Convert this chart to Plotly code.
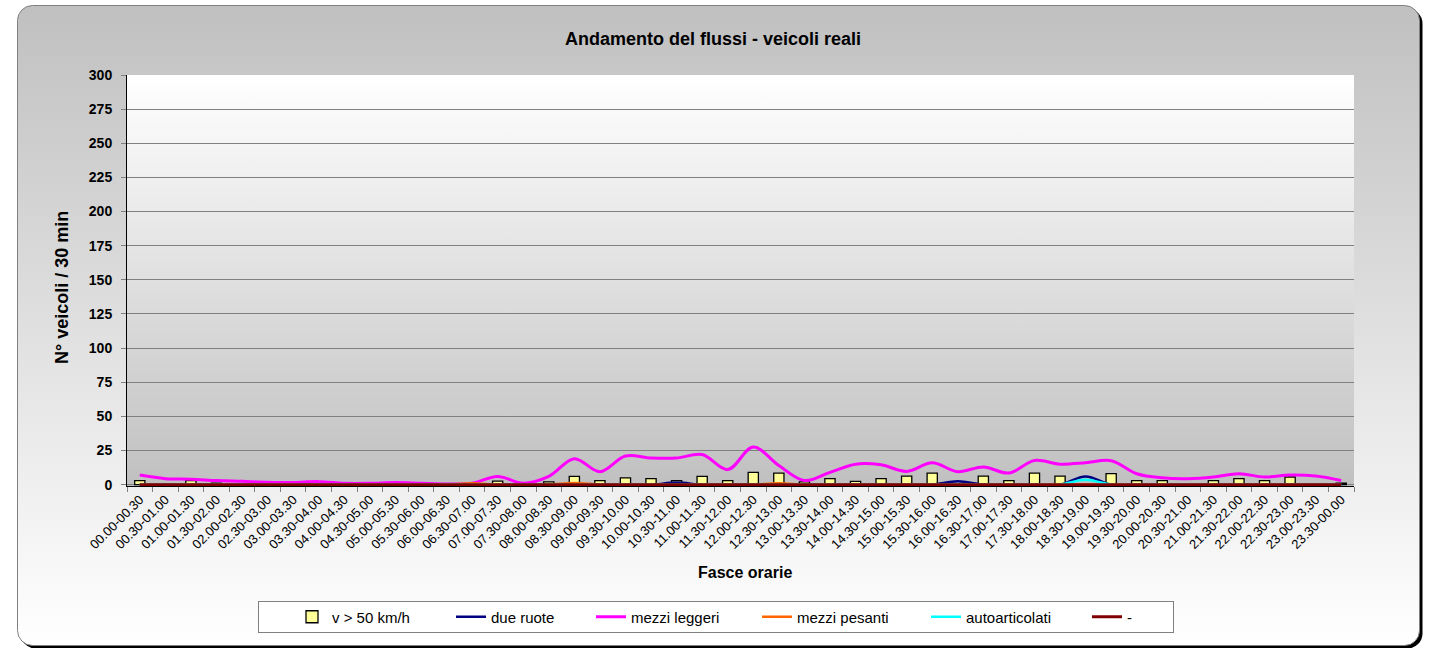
import base64
import plotly.graph_objects as go

# fasce orarie da 30 minuti
fasce = [
    "00.00-00.30", "00.30-01.00", "01.00-01.30", "01.30-02.00", "02.00-02.30", "02.30-03.00",
    "03.00-03.30", "03.30-04.00", "04.00-04.30", "04.30-05.00", "05.00-05.30", "05.30-06.00",
    "06.00-06.30", "06.30-07.00", "07.00-07.30", "07.30-08.00", "08.00-08.30", "08.30-09.00",
    "09.00-09.30", "09.30-10.00", "10.00-10.30", "10.30-11.00", "11.00-11.30", "11.30-12.00",
    "12.00-12.30", "12.30-13.00", "13.00-13.30", "13.30-14.00", "14.00-14.30", "14.30-15.00",
    "15.00-15.30", "15.30-16.00", "16.00-16.30", "16.30-17.00", "17.00-17.30", "17.30-18.00",
    "18.00-18.30", "18.30-19.00", "19.00-19.30", "19.30-20.00", "20.00-20.30", "20.30-21.00",
    "21.00-21.30", "21.30-22.00", "22.00-22.30", "22.30-23.00", "23.00-23.30", "23.30-00.00",
]

v_oltre_50 = [3, 0.5, 3, 1, 0, 0, 0, 0, 0, 0, 0, 0,
              0, 0, 2.5, 0, 2, 6, 3, 5, 4.4, 3, 6, 3,
              9, 8.5, 2, 4.4, 2.4, 4.4, 6.3, 8.5, 0, 6.3, 3, 8.5,
              6.3, 0, 8, 3, 3, 0, 3, 4.4, 3, 5.6, 0, 1]
due_ruote = [0, 0, 0, 0, 0, 0, 0, 0, 0, 0, 0, 0,
             0, 0, 0, 0, 0, 0, 0, 0, 0, 1.5, 0, 0,
             0, 0, 0, 0, 0, 0, 0, 0, 2.5, 0, 0, 0,
             0, 6, 0, 0, 0, 0, 0, 0, 0, 0, 0, 0]
mezzi_leggeri = [7, 4.4, 4, 3, 2.4, 1.7, 1.5, 2.2, 1, 1, 1.5, 1,
                 0.5, 1, 6, 1, 6, 19, 9.5, 21, 19.5, 19.5, 22, 11,
                 27.5, 14, 3, 9, 15, 14.5, 9.7, 16, 9.5, 13, 8.5, 17.7,
                 15, 16, 17.5, 8, 5, 4.4, 5.6, 8, 5.6, 7, 6.3, 3]
mezzi_pesanti = [0, 0, 0, 0, 0, 0, 0, 0, 0, 0, 0, 0,
                 0, 1, 0, 0, 0, 1.2, 0, 0, 0, 0, 0, 0,
                 0, 1, 0, 0, 0, 0, 0, 0, 0, 0, 0, 0,
                 0, 0, 0, 0, 0, 0, 0, 0, 0, 0, 0, 0]
autoarticolati = [0, 0, 0, 0, 0, 0, 0, 0, 0, 0, 0, 0,
                  0, 0, 0, 0, 0, 0, 0, 0, 0, 0, 0, 0,
                  0, 0, 0, 0, 0, 0, 0, 0, 0, 0, 0, 0,
                  0, 3.5, 0, 0, 0, 0, 0, 0, 0, 0, 0, 0]
trattino = [0] * 48

W, H = 1430, 648
L, R, T, B = 127, 76, 75, 162
PW, PH = W - L - R, H - T - B
FONT = "Liberation Sans, Arial, sans-serif"


def svg_uri(svg):
    return "data:image/svg+xml;base64," + base64.b64encode(svg.encode()).decode()


def px_x(px):
    return (px - L) / PW


def px_y(py):
    return (T + PH - py) / PH


# sfondo esterno (riquadro arrotondato con ombra) e riquadro legenda
outer_svg = f"""<svg xmlns='http://www.w3.org/2000/svg' width='{W}' height='{H}' viewBox='0 0 {W} {H}' preserveAspectRatio='none'>
<defs><linearGradient id='g' x1='0' y1='0' x2='0' y2='1'>
<stop offset='0' stop-color='#c0c0c0'/><stop offset='1' stop-color='#ffffff'/></linearGradient></defs>
<rect x='20.5' y='8.5' width='1402' height='640' rx='15' fill='#000000'/>
<rect x='17.5' y='5.5' width='1402' height='640' rx='15' fill='url(#g)' stroke='#808080'/>
<rect x='258.5' y='601.5' width='915' height='31' fill='#ffffff' stroke='#808080'/>
</svg>"""

plot_svg = """<svg xmlns='http://www.w3.org/2000/svg' width='100' height='100' viewBox='0 0 100 100' preserveAspectRatio='none'>
<defs><linearGradient id='p' x1='0' y1='0' x2='0' y2='1'>
<stop offset='0' stop-color='#ffffff'/><stop offset='1' stop-color='#c0c0c0'/></linearGradient></defs>
<rect x='0' y='0' width='100' height='100' fill='url(#p)'/>
</svg>"""

fig = go.Figure()

# ogni voce ha la sua legenda, per poterla collocare come nell'originale
inizio_testo = [332, 491, 631, 797, 966, 1127]
legend_ids = ["legend"] + [f"legend{i}" for i in range(2, 7)]

fig.add_trace(go.Bar(x=fasce, y=v_oltre_50, name="v > 50 km/h", legend=legend_ids[0],
                     marker=dict(color="#ffff99", line=dict(color="#000000", width=1.3))))

linee = [
    ("due ruote", due_ruote, "#000080", 2.5),
    ("mezzi leggeri", mezzi_leggeri, "#ff00ff", 3),
    ("mezzi pesanti", mezzi_pesanti, "#ff6600", 2.5),
    ("autoarticolati", autoarticolati, "#00ffff", 2.5),
    ("-", trattino, "#800000", 3),
]
for k, (nome, valori, colore, spessore) in enumerate(linee, start=1):
    fig.add_trace(go.Scatter(x=fasce, y=valori, name=nome, mode="lines", legend=legend_ids[k],
                             line=dict(color=colore, width=spessore, shape="spline", smoothing=1)))

legends = {}
for lid, xt in zip(legend_ids, inizio_testo):
    legends[lid] = dict(orientation="h", x=px_x(xt - 40), xanchor="left", y=px_y(617), yanchor="middle",
                        bgcolor="rgba(0,0,0,0)", borderwidth=0, font=dict(size=15), itemwidth=30)

fig.update_layout(
    width=W, height=H,
    margin=dict(l=L, r=R, t=T, b=B, autoexpand=False),
    paper_bgcolor="#ffffff",
    plot_bgcolor="rgba(0,0,0,0)",
    font=dict(family=FONT, color="#000000"),
    title=dict(text="<b>Andamento del flussi - veicoli reali</b>", x=713 / W, xref="container", xanchor="center",
               y=1 - 39 / H, yanchor="middle", font=dict(size=18)),
    bargap=0.6,
    showlegend=True,
    images=[
        dict(source=svg_uri(outer_svg), xref="paper", yref="paper", x=-L / PW, y=1 + T / PH,
             sizex=W / PW, sizey=H / PH, sizing="stretch", xanchor="left", yanchor="top", layer="below"),
        dict(source=svg_uri(plot_svg), xref="paper", yref="paper", x=0, y=1, sizex=1, sizey=1,
             sizing="stretch", xanchor="left", yanchor="top", layer="below"),
    ],
    annotations=[
        dict(text="<b>Fasce orarie</b>", xref="paper", yref="paper", x=px_x(745), y=px_y(572),
             xanchor="center", yanchor="middle", showarrow=False, font=dict(size=16)),
        dict(text="<b>N° veicoli / 30 min</b>", xref="paper", yref="paper", x=px_x(62), y=px_y(288),
             xanchor="center", yanchor="middle", textangle=-90, showarrow=False, font=dict(size=18)),
    ],
    **legends,
)

fig.update_xaxes(
    automargin=False,
    tickangle=-45, tickfont=dict(size=13), tickson="boundaries",
    ticks="outside", ticklen=5, tickcolor="#808080",
    showgrid=False, showline=True, linecolor="#000000", linewidth=1,
)
fig.update_yaxes(
    automargin=False,
    range=[-1, 300], tickvals=list(range(0, 301, 25)), tickfont=dict(size=14, weight="bold"),
    ticks="outside", ticklen=5, tickcolor="#808080", ticklabelstandoff=6,
    showgrid=True, gridcolor="#808080", gridwidth=1, zeroline=False,
    showline=True, linecolor="#000000", linewidth=1,
)

fig.write_html("out.html", config={"displayModeBar": False},
               post_script="document.body.style.margin = '0';")
